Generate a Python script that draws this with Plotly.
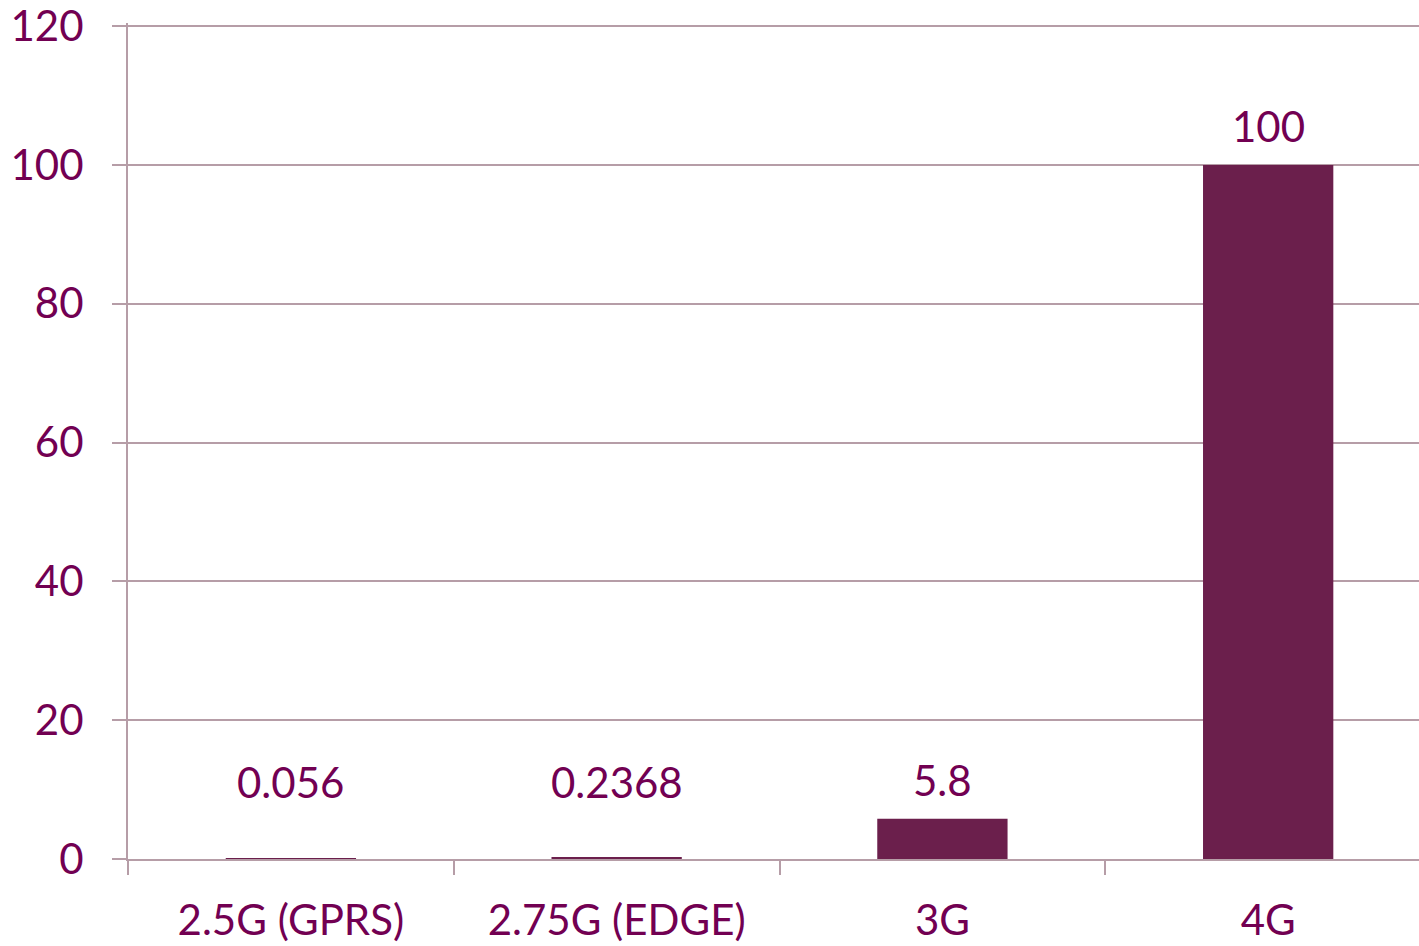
import plotly.graph_objects as go

categories = ["2.5G (GPRS)", "2.75G (EDGE)", "3G", "4G"]
speeds = [0.056, 0.2368, 5.8, 100]
value_labels = ["0.056", "0.2368", "5.8", "100"]

BAR = "#6B1F4C"
TEXT = "#720052"
GRID = "#B69DA7"
FONT = "Lato"
SIZE = 42

fig = go.Figure(go.Bar(
    x=categories,
    y=speeds,
    marker=dict(color=BAR, line=dict(width=0)),
    hoverinfo="skip",
))

# value labels sit above each bar; very small bars share a common floor
for cat, v, t in zip(categories, speeds, value_labels):
    fig.add_annotation(
        x=cat, y=max(v, 5.5), text=t, showarrow=False,
        yanchor="middle", yshift=39,
        font=dict(family=FONT, size=SIZE, color=TEXT),
    )

fig.update_layout(
    width=1419, height=946,
    margin=dict(l=128, r=0, t=23, b=87, autoexpand=False),
    paper_bgcolor="white", plot_bgcolor="white",
    bargap=0.6, showlegend=False,
    font=dict(family=FONT, size=SIZE, color=TEXT),
)
fig.update_xaxes(
    type="category",
    range=[-0.5, 3.463],
    tickson="boundaries",
    ticks="outside", ticklen=14, tickcolor=GRID, tickwidth=2,
    showgrid=False,
    showline=True, linecolor=GRID, linewidth=2,
    tickfont=dict(family=FONT, size=SIZE, color=TEXT),
    ticklabelstandoff=24,
    zeroline=False,
    automargin=False,
)
fig.update_yaxes(
    range=[0, 120.45],
    tickmode="array", tickvals=[0, 20, 40, 60, 80, 100, 120],
    ticks="outside", ticklen=14, tickcolor=GRID, tickwidth=2,
    showgrid=True, gridcolor=GRID, gridwidth=2,
    showline=True, linecolor=GRID, linewidth=2,
    zeroline=False,
    tickfont=dict(family=FONT, size=SIZE, color=TEXT),
    ticklabelstandoff=20,
    ticklabeloverflow="allow",
    automargin=False,
)

fig.write_html("out.html")
